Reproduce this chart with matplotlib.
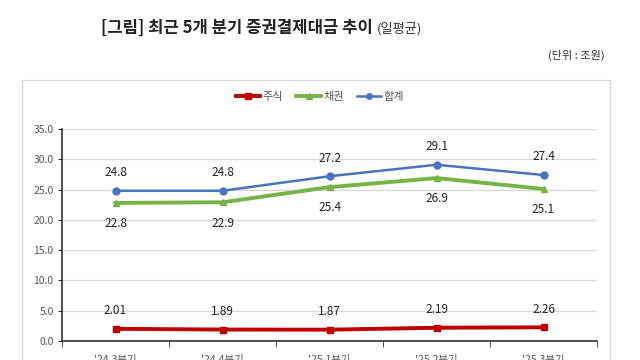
import matplotlib
matplotlib.use('Agg')
import matplotlib.pyplot as plt
from matplotlib.patches import Rectangle

plt.rcParams['font.family'] = ['Noto Sans CJK KR', 'DejaVu Sans']

# data
quarters = ["'24.3분기", "'24.4분기", "'25.1분기", "'25.2분기", "'25.3분기"]
stocks = [2.01, 1.89, 1.87, 2.19, 2.26]
bonds = [22.8, 22.9, 25.4, 26.9, 25.1]
total = [24.8, 24.8, 27.2, 29.1, 27.4]
stock_labels = ['2.01', '1.89', '1.87', '2.19', '2.26']

red = '#C00000'
green = '#77B347'
blue = '#4A74C0'

fig = plt.figure(figsize=(6.4, 3.6), dpi=100)
fig.patch.set_facecolor('white')

# chart panel border
fig.patches.append(Rectangle((22/640, -0.05), (610-22)/640, (1.05 - 80/360),
                             transform=fig.transFigure, fill=False,
                             edgecolor='#D9D9D9', linewidth=1))

ax = fig.add_axes([62/640, 19/360, 535/640, 212/360])
x = list(range(len(quarters)))

ax.plot(x, stocks, color=red, lw=2.8, marker='s', ms=5, label='주식', zorder=3)
ax.plot(x, bonds, color=green, lw=2.8, marker='^', ms=5, label='채권', zorder=3)
ax.plot(x, total, color=blue, lw=1.8, marker='o', ms=5, label='합계', zorder=3)

for i in x:
    ax.annotate(f'{total[i]:.1f}', (i, total[i]), xytext=(0, 13), textcoords='offset points',
                ha='center', va='center', fontsize=8.5, color='#222222')
    ax.annotate(f'{bonds[i]:.1f}', (i, bonds[i]), xytext=(0, -15), textcoords='offset points',
                ha='center', va='center', fontsize=8.5, color='#222222')
    ax.annotate(stock_labels[i], (i, stocks[i]), xytext=(0, 13), textcoords='offset points',
                ha='center', va='center', fontsize=8.5, color='#222222')

ax.set_xlim(-0.5, 4.5)
ax.set_ylim(0, 35)
ax.set_yticks([0, 5, 10, 15, 20, 25, 30, 35])
ax.set_yticklabels([f'{v:.1f}' for v in [0, 5, 10, 15, 20, 25, 30, 35]], fontsize=7.5, color='#555555')
ax.set_xticks(x)
ax.set_xticklabels(quarters, fontsize=7.5, color='#555555')
ax.set_xticks([i - 0.5 for i in range(len(quarters) + 1)], minor=True)
ax.tick_params(axis='x', which='major', length=0, pad=10)
ax.tick_params(axis='x', which='minor', length=4, color='#333333', direction='out')
ax.tick_params(axis='y', length=3, color='#333333', pad=3)
ax.grid(axis='y', color='#D9D9D9', lw=1)
ax.set_axisbelow(True)
for side in ['top', 'right']:
    ax.spines[side].set_visible(False)
ax.spines['left'].set_color('#333333')
ax.spines['bottom'].set_color('#333333')
ax.spines['left'].set_linewidth(1.2)
ax.spines['bottom'].set_linewidth(1.2)

leg = fig.legend(loc='center', bbox_to_anchor=(320/640, 1 - 97/360), ncol=3, frameon=False,
                 fontsize=8, handlelength=2.2, handletextpad=0.2, columnspacing=1.2)
for t in leg.get_texts():
    t.set_color('#555555')
for h in leg.legend_handles:
    h.set_markersize(4)

# title: bold part + regular part, placed side by side around x = 260px
t1 = fig.text(0, 1 - 28/360, '[그림] 최근 5개 분기 증권결제대금 추이', fontsize=12,
              fontweight='bold', ha='left', va='center', color='#222222')
t2 = fig.text(0, 1 - 29/360, '(일평균)', fontsize=9.5, ha='left', va='center', color='#333333')
r = fig.canvas.get_renderer()
w1 = t1.get_window_extent(r).width
w2 = t2.get_window_extent(r).width
gap = 4
start = 262 - (w1 + gap + w2) / 2
t1.set_x(start / 640)
t2.set_x((start + w1 + gap) / 640)

fig.text(605/640, 1 - 55/360, '(단위 : 조원)', fontsize=8, ha='right', va='center', color='#333333')

fig.savefig('out.png', dpi=100)
